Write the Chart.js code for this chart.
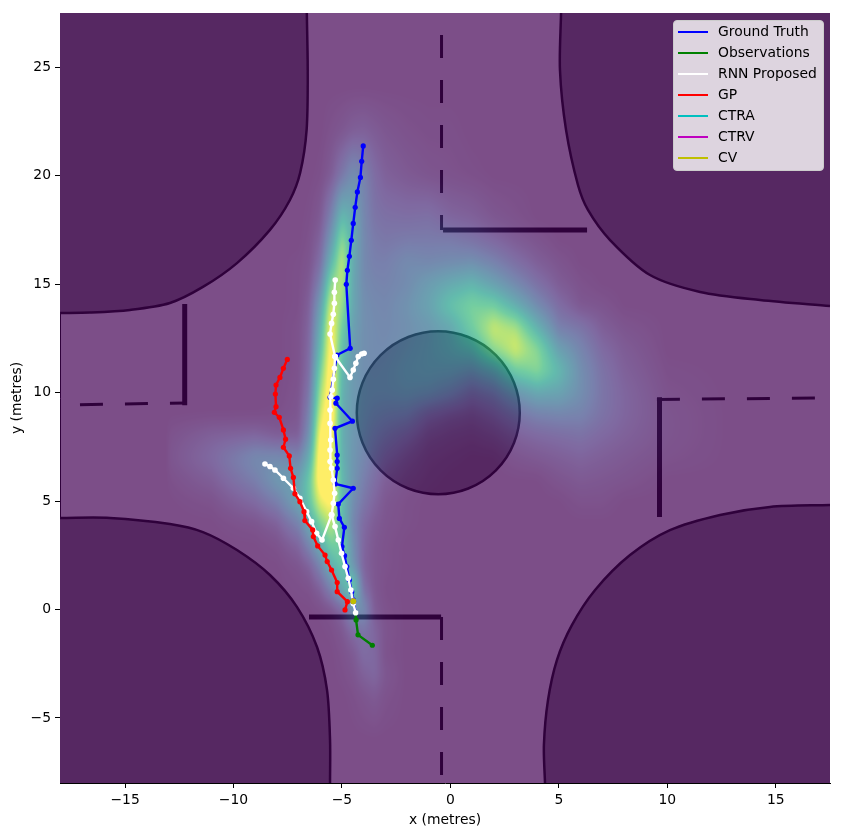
<!DOCTYPE html>
<html>
<head>
<meta charset="utf-8">
<title>Trajectory proposals</title>
<script src="https://cdn.jsdelivr.net/npm/chart.js@4/dist/chart.umd.min.js"></script>
<style>
    body { margin: 0; background: #fff; }
    #wrap { position: relative; width: 843px; height: 836px; }
    #legend {
        position: absolute; left: 673px; top: 20px; width: 151px; height: 151px; box-sizing: border-box;
        background: rgba(255, 255, 255, 0.8); border: 1px solid #ccc; border-radius: 4px;
        font: 13.9px "DejaVu Sans", sans-serif; color: #000;
    }
    #legend div { position: absolute; left: 44px; height: 21px; line-height: 21px; white-space: nowrap; }
    #legend i { position: absolute; left: -40px; top: 10px; width: 30px; height: 2px; }
</style>
</head>
<body>
<div id="wrap">
    <canvas id="chart" width="843" height="836"></canvas>
    <div id="legend"></div>
</div>
<script>
const xTicks = [-15, -10, -5, 0, 5, 10, 15];
const yTicks = [-5, 0, 5, 10, 15, 20, 25];

const legendLabels = ['Ground Truth', 'Observations', 'RNN Proposed', 'GP', 'CTRA', 'CTRV', 'CV'];
const legendColors = ['#0000ff', '#008000', '#ffffff', '#ff0000', '#00bfbf', '#bf00bf', '#bfbf00'];

// trajectories, [x, y] in metres
const groundTruth = [[-4.02, 21.37], [-4.09, 20.66], [-4.15, 19.92], [-4.29, 19.25], [-4.39, 18.54], [-4.48, 17.8], [-4.57, 17.02],
    [-4.66, 16.28], [-4.75, 15.64], [-4.8, 14.99], [-4.62, 12.04], [-5.23, 11.73], [-5.55, 9.78], [-5.22, 9.74], [-5.28, 9.51],
    [-4.52, 8.68], [-5.32, 8.35], [-5.22, 7.12], [-5.22, 6.82], [-5.22, 6.51], [-5.31, 5.79], [-4.48, 5.59], [-5.17, 4.86],
    [-5.12, 4.2], [-4.89, 3.79], [-5.0, 2.9], [-4.88, 2.48], [-4.78, 1.98], [-4.66, 1.36], [-4.55, 0.82], [-4.48, 0.44], [-4.37, -0.15]];
const observations = [[-4.37, -0.15], [-4.35, -0.48], [-4.26, -1.17], [-3.6, -1.65]];
const gpPath = [[-7.52, 11.53], [-7.7, 11.12], [-7.86, 10.7], [-8.04, 10.35], [-8.07, 9.93], [-8.04, 9.35], [-8.12, 9.09], [-7.89, 8.86],
    [-7.7, 8.28], [-7.6, 7.85], [-7.7, 7.48], [-7.43, 7.08], [-7.37, 6.51], [-7.24, 6.09], [-7.17, 5.33], [-6.94, 4.97], [-6.75, 4.51],
    [-6.71, 4.1], [-6.35, 3.67], [-6.32, 3.36], [-6.12, 2.93], [-5.78, 2.51], [-5.68, 2.21], [-5.48, 1.82], [-5.22, 1.24], [-5.22, 0.82],
    [-4.75, 0.36], [-4.86, -0.02]];
const rnnStem = [[-4.37, -0.15], [-4.48, 0.28], [-4.59, 0.9], [-4.71, 1.44], [-4.86, 1.98], [-5.02, 2.59], [-5.17, 3.2], [-5.32, 3.82], [-5.48, 4.36]];
const rnnLeft = [[-5.48, 4.36], [-5.92, 3.2], [-6.17, 3.51], [-6.4, 4.05], [-6.63, 4.51], [-6.94, 5.13], [-7.24, 5.59], [-7.7, 6.05],
    [-8.09, 6.43], [-8.32, 6.59], [-8.55, 6.71]];
const rnnMain = [[-5.48, 4.36], [-5.4, 4.9], [-5.34, 5.36], [-5.4, 5.97], [-5.48, 6.51], [-5.55, 6.82], [-5.55, 7.35], [-5.52, 7.81],
    [-5.55, 8.58], [-5.55, 9.2], [-5.51, 9.81], [-5.45, 10.12], [-5.4, 10.61], [-5.35, 11.12], [-5.32, 11.66]];
const rnnUp = [[-5.32, 11.66], [-5.55, 12.7], [-5.48, 13.19], [-5.4, 13.61], [-5.35, 14.12], [-5.35, 14.62], [-5.31, 15.19]];
const rnnRight = [[-5.32, 11.66], [-4.63, 10.7], [-4.48, 11.04], [-4.36, 11.35], [-4.25, 11.66], [-4.09, 11.78], [-3.98, 11.81]];
const modelStart = [[-4.48, 0.38]];

// map: off-road corners, island and lane markings
const cornerTopLeft = [[-18, 13.67], [-16.62, 13.69], [-14.77, 13.81], [-12.93, 14.13], [-11.41, 14.87], [-9.84, 15.97], [-8.32, 17.5],
    [-7.4, 18.88], [-6.93, 20.12], [-6.63, 22.11], [-6.58, 24.87], [-6.62, 27.5]];
const cornerTopRight = [[5.1, 27.5], [5.05, 24.87], [5.33, 22.11], [5.88, 19.57], [6.34, 18.42], [7.36, 17.03], [9.2, 15.42], [11.51, 14.64], [14.27, 14.27], [17.5, 13.99]];
const cornerBottomLeft = [[-18, 4.22], [-15.69, 4.22], [-12.93, 3.94], [-11.41, 3.57], [-9.84, 2.74], [-8.32, 1.59], [-7.07, 0.11],
    [-6.15, -1.73], [-5.69, -3.71], [-5.55, -6.02], [-5.55, -8]];
const cornerBottomRight = [[4.36, -8], [4.31, -6.25], [4.5, -4.17], [4.91, -2.33], [5.6, -0.72], [6.67, 0.9], [8.28, 2.51], [10.12, 3.66], [12.43, 4.36], [14.73, 4.73], [17.5, 4.82]];
const island = [[-0.56, 9.07]];
const solidLanes = [
    [[-0.34, 17.5], [6.3, 17.5]],
    [[-12.25, 14.08], [-12.25, 9.42]],
    [[9.64, 9.78], [9.64, 4.26]],
    [[-6.52, -0.35], [-0.43, -0.35]]
];
const dashedLanes = [
    [[-0.41, 26.49], [-0.41, 17.5]],
    [[-17.08, 9.44], [-12.2, 9.52]],
    [[9.52, 9.68], [16.9, 9.75]],
    [[-0.41, -0.35], [-0.41, -7.63]]
];

// density, percent, node columns heatX, rows heatY (missing = 0)
const heatX = [-13, -11, -9, -8, -7, -6.5, -6, -5.5, -5, -4.5, -4, -3.5, -3, -2, -1, 0, 1, 2, 3, 4, 5, 6, 7, 8, 10, 13];
const heatY = [24, 22, 20, 18, 17, 16, 15, 14, 13, 12, 11, 10, 9, 8, 7, 6, 5, 4, 3, 2, 1, 0, -1, -2, -3, -4, -6];
const heatRows = [
    [],
    [0, 0, 0, 0, 0, 0, 0, 2, 4, 7, 8, 6, 4, 2, 1, 1],
    [0, 0, 0, 0, 0, 0, 1, 6, 18, 30, 24, 13, 8, 5, 3, 2, 1],
    [0, 0, 0, 0, 0, 1, 5, 24, 56, 46, 26, 17, 15, 14, 15, 10, 8, 4, 2],
    [0, 0, 0, 0, 0, 2, 9, 36, 76, 48, 27, 20, 18, 20, 20, 20, 16, 11, 6, 3],
    [0, 0, 0, 0, 1, 3, 14, 52, 88, 46, 27, 22, 22, 28, 26, 28, 30, 23, 14, 7, 3],
    [0, 0, 0, 0, 1, 5, 24, 76, 86, 44, 28, 25, 24, 28, 38, 46, 52, 40, 27, 15, 6, 2],
    [0, 0, 0, 0, 1, 8, 38, 94, 78, 44, 30, 27, 26, 32, 42, 60, 70, 67, 48, 28, 13, 4, 3],
    [0, 0, 0, 0, 2, 10, 48, 104, 66, 40, 30, 28, 27, 30, 35, 44, 67, 90, 82, 50, 22, 17, 7, 3],
    [0, 0, 0, 0, 2, 12, 56, 108, 58, 38, 30, 28, 28, 32, 36, 42, 50, 76, 92, 74, 40, 25, 12, 6],
    [0, 0, 0, 0, 2, 14, 68, 112, 54, 36, 30, 29, 30, 34, 36, 35, 30, 40, 65, 74, 55, 30, 16, 8, 1],
    [0, 0, 0, 0, 3, 18, 80, 114, 50, 36, 31, 30, 30, 32, 30, 24, 15, 20, 33, 44, 42, 30, 17, 10, 2],
    [0, 0, 0, 1, 4, 24, 92, 114, 48, 36, 30, 26, 24, 22, 12, 8, 6, 10, 17, 23, 25, 24, 16, 10, 3],
    [2, 8, 10, 6, 7, 32, 106, 106, 48, 35, 28, 22, 18, 12, 5, 3, 2, 4, 8, 11, 13, 15, 11, 8, 3],
    [3, 12, 28, 28, 24, 48, 112, 98, 50, 34, 26, 18, 12, 6, 2, 1, 0, 0, 3, 5, 7, 9, 7, 5, 2],
    [1, 7, 22, 36, 40, 64, 112, 106, 54, 34, 22, 14, 7, 3, 1, 0, 0, 0, 0, 0, 3, 5, 4, 3],
    [0, 2, 12, 22, 44, 62, 96, 106, 56, 30, 18, 10, 4, 1, 0, 0, 0, 0, 0, 0, 0, 2, 2],
    [0, 0, 3, 8, 24, 46, 70, 88, 56, 26, 12, 6, 3, 1],
    [0, 0, 0, 2, 10, 26, 48, 68, 68, 30, 10, 4, 2],
    [0, 0, 0, 0, 3, 8, 24, 48, 62, 34, 9, 4, 2],
    [0, 0, 0, 0, 1, 2, 8, 24, 48, 70, 14, 4, 1],
    [0, 0, 0, 0, 0, 0, 1, 3, 10, 32, 30, 6, 2],
    [0, 0, 0, 0, 0, 0, 0, 1, 4, 12, 16, 10, 3],
    [0, 0, 0, 0, 0, 0, 0, 0, 2, 5, 13, 11, 2],
    [0, 0, 0, 0, 0, 0, 0, 0, 1, 3, 8, 11, 4],
    [0, 0, 0, 0, 0, 0, 0, 0, 0, 1, 3, 5, 2],
    []
];
const viridis = [[68, 1, 84], [72, 40, 120], [62, 74, 137], [49, 104, 142], [38, 130, 142], [31, 158, 137], [53, 183, 121], [109, 205, 89], [180, 222, 44], [253, 231, 37]];

const toPts = arr => arr.map(p => ({ x: p[0], y: p[1] }));

function track(points, color, radius) {
    return { type: 'scatter', data: toPts(points), showLine: true, borderColor: color, borderWidth: 2.4, tension: 0,
        pointRadius: radius, pointBackgroundColor: color, pointBorderWidth: 0 };
}
function corner(points, side) {
    return { type: 'scatter', data: toPts(points), showLine: true, borderColor: '#000', borderWidth: 2.5, tension: 0.3, pointRadius: 0,
        fill: side, backgroundColor: '#808080' };
}
function lane(points, width, dash) {
    return { type: 'scatter', data: toPts(points), showLine: true, borderColor: '#000', borderWidth: width, pointRadius: 0,
        borderDash: dash || [], borderCapStyle: 'butt' };
}

// first listed is drawn last
const datasets = [
    track(modelStart, legendColors[6], 3),
    track(modelStart, legendColors[5], 3),
    track(modelStart, legendColors[4], 3),
    track(gpPath, legendColors[3], 2.6),
    track(rnnStem, legendColors[2], 2.8),
    track(rnnLeft, legendColors[2], 2.8),
    track(rnnMain, legendColors[2], 2.8),
    track(rnnUp, legendColors[2], 2.8),
    track(rnnRight, legendColors[2], 2.8),
    track(observations, legendColors[1], 2.6),
    track(groundTruth, legendColors[0], 2.6),
    { type: 'scatter', label: 'island', data: toPts(island), pointRadius: 81.5, pointBackgroundColor: '#808080', pointBorderColor: '#000', pointBorderWidth: 2.5 },
    ...solidLanes.map(l => lane(l, 5)),
    ...dashedLanes.map(l => lane(l, 3, [23, 22])),
    corner(cornerTopLeft, 'end'),
    corner(cornerTopRight, 'end'),
    corner(cornerBottomLeft, 'start'),
    corner(cornerBottomRight, 'start')
];

function heatValue(x, y) {
    if (x <= heatX[0] || x >= heatX[heatX.length - 1] || y >= heatY[0] || y <= heatY[heatY.length - 1]) return 0;
    let i = 0, j = 0;
    while (heatX[i + 1] < x) i++;
    while (heatY[j + 1] > y) j++;
    const tx = (x - heatX[i]) / (heatX[i + 1] - heatX[i]);
    const ty = (y - heatY[j]) / (heatY[j + 1] - heatY[j]);
    const at = (r, c) => heatRows[r][c] || 0;
    const top = at(j, i) * (1 - tx) + at(j, i + 1) * tx;
    const bot = at(j + 1, i) * (1 - tx) + at(j + 1, i + 1) * tx;
    return (top * (1 - ty) + bot * ty) / 100;
}

function boxBlur(vals, w, h, r) {
    const out = new Float32Array(vals.length);
    for (let y = 0; y < h; y++) {
        let sum = 0;
        for (let x = -r; x <= r; x++) sum += vals[y * w + Math.min(w - 1, Math.max(0, x))];
        for (let x = 0; x < w; x++) {
            out[x * h + y] = sum / (2 * r + 1); // written transposed so that two calls cover both axes
            sum += vals[y * w + Math.min(w - 1, x + r + 1)] - vals[y * w + Math.max(0, x - r)];
        }
    }
    return out;
}

// heat overlay sits on top of the map, under the trajectories
const heatPlugin = {
    id: 'heat',
    afterDatasetDraw(chart, args) {
        if (chart.data.datasets[args.index].label !== 'island') return;
        const area = chart.chartArea;
        const w = Math.round(area.right - area.left), h = Math.round(area.bottom - area.top);
        let vals = new Float32Array(w * h);
        for (let py = 0; py < h; py++) {
            const y = chart.scales.y.getValueForPixel(area.top + py + 0.5);
            for (let px = 0; px < w; px++) {
                vals[py * w + px] = heatValue(chart.scales.x.getValueForPixel(area.left + px + 0.5), y);
            }
        }
        // narrow across the band, long along it
        for (let pass = 0; pass < 4; pass++) vals = boxBlur(vals, pass % 2 ? h : w, pass % 2 ? w : h, pass % 2 ? 7 : 2);
        const off = document.createElement('canvas');
        off.width = w; off.height = h;
        const octx = off.getContext('2d');
        const img = octx.createImageData(w, h);
        vals.forEach((v, k) => {
            const t = Math.min(1, v) * (viridis.length - 1);
            const a = Math.min(viridis.length - 2, Math.floor(t)), f = t - a;
            for (let c = 0; c < 3; c++) img.data[k * 4 + c] = viridis[a][c] * (1 - f) + viridis[a + 1][c] * f;
            img.data[k * 4 + 3] = 178;
        });
        octx.putImageData(img, 0, 0);
        chart.ctx.drawImage(off, area.left, area.top);
    }
};

const tickFont = { family: 'DejaVu Sans', size: 13.9 };
const minus = v => String(v).replace('-', '\u2212');

new Chart(document.getElementById('chart'), {
    type: 'scatter',
    data: { datasets: datasets },
    plugins: [heatPlugin],
    options: {
        responsive: false,
        animation: false,
        events: [],
        layout: { autoPadding: false, padding: { top: 13, right: 13, left: 0, bottom: 0 } },
        plugins: { legend: { display: false }, tooltip: { enabled: false } },
        scales: {
            x: {
                type: 'linear', min: -18, max: 17.5,
                afterBuildTicks: s => { s.ticks = xTicks.map(v => ({ value: v })); },
                afterFit: s => { s.height = 53; },
                ticks: { font: tickFont, color: '#000', padding: 4, maxRotation: 0, autoSkip: false, callback: minus },
                grid: { drawOnChartArea: false, tickLength: 5, color: '#000', tickColor: '#000' },
                border: { color: '#000', width: 1 },
                title: { display: true, text: 'x (metres)', font: { family: 'DejaVu Sans', size: 13.9 }, color: '#000', padding: { top: 0, bottom: 7 } }
            },
            y: {
                type: 'linear', min: -8, max: 27.5,
                afterBuildTicks: s => { s.ticks = yTicks.map(v => ({ value: v })); },
                afterFit: s => { s.width = 60; },
                ticks: { font: tickFont, color: '#000', padding: 4, autoSkip: false, callback: minus },
                grid: { drawOnChartArea: false, tickLength: 5, color: '#000', tickColor: '#000' },
                border: { color: '#000', width: 1 },
                title: { display: true, text: 'y (metres)', font: { family: 'DejaVu Sans', size: 13.9 }, color: '#000', padding: { top: 9, bottom: 0 } }
            }
        }
    }
});

// legend box, same look as the plotted tracks
const legendEl = document.getElementById('legend');
legendLabels.forEach((label, i) => {
    const row = document.createElement('div');
    row.style.top = (i * 21 - 0.5) + 'px';
    row.innerHTML = `<i style="background:${legendColors[i]}"></i>${label}`;
    legendEl.appendChild(row);
});
</script>
</body>
</html>
